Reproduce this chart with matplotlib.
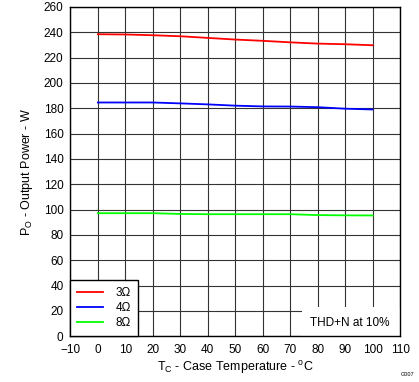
import numpy as np
import matplotlib.pyplot as plt
from matplotlib.patches import Rectangle

plt.rcParams['font.family'] = ['Liberation Sans', 'DejaVu Sans']
plt.rcParams['mathtext.fontset'] = 'custom'
plt.rcParams['mathtext.rm'] = 'Liberation Sans'
plt.rcParams['mathtext.it'] = 'Liberation Sans'

# Case temperature (degC)
temp = [0, 10, 20, 30, 40, 50, 60, 70, 80, 90, 100]
# Output power (W) per load
p_3ohm = [238.4, 238.2, 237.6, 236.8, 235.5, 234.2, 233.2, 232.0, 231.0, 230.5, 229.7]
p_4ohm = [184.5, 184.5, 184.5, 183.8, 183.0, 182.0, 181.4, 181.3, 180.8, 179.6, 179.0]
p_8ohm = [97.1, 97.1, 97.1, 96.5, 96.3, 96.3, 96.3, 96.3, 95.6, 95.4, 95.3]

xticks = np.arange(-10, 111, 10)
yticks = np.arange(0, 261, 20)

fig = plt.figure(figsize=(4.19, 3.82), dpi=100)
ax = fig.add_axes([0.168, 0.12, 0.787, 0.862])

ax.plot(temp, p_3ohm, color="#ff0000", lw=1.3, label="3\u03a9")
ax.plot(temp, p_4ohm, color="#0000ff", lw=1.3, label="4\u03a9")
ax.plot(temp, p_8ohm, color="#00ff00", lw=1.3, label="8\u03a9")

ax.set_xlim(-10, 110)
ax.set_ylim(0, 260)
ax.set_xticks(xticks)
ax.set_yticks(yticks)
ax.tick_params(length=0, labelsize=8.5)
ax.tick_params(axis="x", pad=6)
ax.tick_params(axis="y", pad=5)
ax.set_axisbelow(True)
ax.grid(True, color="#333333", lw=0.8)
for s in ax.spines.values():
    s.set_linewidth(1.0)
    s.set_color("black")

ax.set_xlabel(r"T$_\mathrm{C}$ - Case Temperature - $^\mathrm{o}$C", fontsize=9, labelpad=2)
ax.set_ylabel(r"P$_\mathrm{O}$ - Output Power - W", fontsize=9, labelpad=6)

# white patch behind the annotation
ax.add_patch(Rectangle((74.3, 0), 35.7, 22.7, facecolor="white", edgecolor="none", zorder=1))
ax.text(106, 10, "THD+N at 10%", ha="right", va="center", fontsize=8.5, zorder=2)

leg = ax.legend(loc="lower left", borderaxespad=0, fontsize=8.5, handlelength=2.2,
                fancybox=False, framealpha=1, edgecolor="black",
                labelspacing=0.25, borderpad=0.6, handletextpad=1.0)
leg.get_frame().set_linewidth(1.0)

fig.text(0.99, 0.012, "G007", fontsize=4, ha="right", va="bottom")

fig.savefig("out.png", dpi=100)
